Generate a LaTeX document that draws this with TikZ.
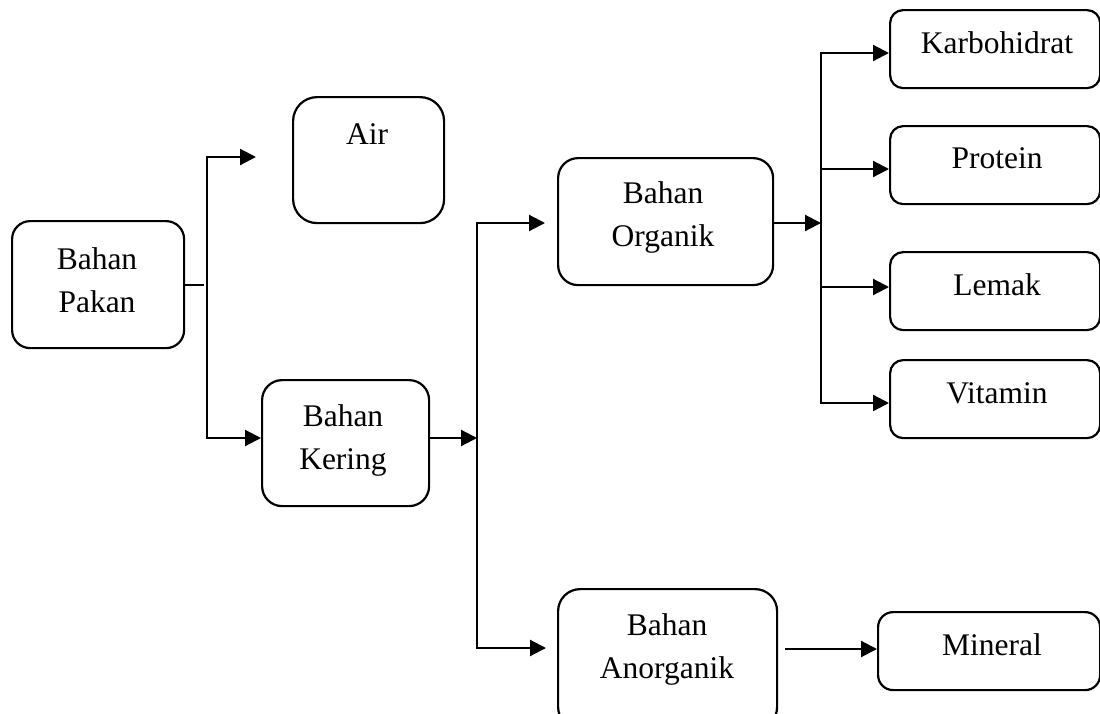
\documentclass[tikz,border=0pt]{standalone}
\usepackage{fontspec}
\setmainfont{Liberation Serif}
\usetikzlibrary{arrows.meta}
\newcommand{\twol}[2]{\vtop{\halign{\hfil##\hfil\cr#1\cr#2\cr}}}
\tikzset{
  box/.style={draw=black, line width=2.2pt, rounded corners=#1, inner sep=0pt, anchor=north west},
  box/.default=18pt,
  txt/.style={inner sep=0pt, anchor=base, font=\fontsize{31.5}{43}\selectfont},
  ln/.style={draw=black, line width=2.2pt},
  arr/.style={draw=black, line width=2.2pt, -{Triangle[length=16pt,width=16pt]}},
}
\begin{document}
\begin{tikzpicture}[x=1pt,y=-1pt]
\useasboundingbox (0,0) rectangle (1100,713);
\clip (0,0) rectangle (1100,713);
% boxes
\node[box=18pt, minimum width=172pt, minimum height=127pt] (pakan) at (11,220) {};
\node[box=24pt, minimum width=151pt, minimum height=126pt] (air) at (292,96) {};
\node[box=20pt, minimum width=167pt, minimum height=126pt] (kering) at (261,379) {};
\node[box=20pt, minimum width=215pt, minimum height=127pt] (org) at (557,157) {};
\node[box=22pt, minimum width=219pt, minimum height=140pt] (anorg) at (557,588) {};
\node[box=13pt, minimum width=210pt, minimum height=78pt] (karbo) at (889,9) {};
\node[box=13pt, minimum width=210pt, minimum height=78pt] (prot) at (889,125) {};
\node[box=13pt, minimum width=210pt, minimum height=78pt] (lemak) at (889,251) {};
\node[box=13pt, minimum width=210pt, minimum height=78pt] (vit) at (889,359) {};
\node[box=15pt, minimum width=222pt, minimum height=78pt] (mineral) at (877,611) {};
% texts
\node[txt] (pakanT) at (97,269) {\twol{Bahan}{Pakan}};
\node[txt] (airT) at (367,144) {Air};
\node[txt] (keringT) at (343,426) {\twol{Bahan}{Kering}};
\node[txt] (orgT) at (663,203) {\twol{Bahan}{Organik}};
\node[txt] (anorgT) at (667,635) {\twol{Bahan}{Anorganik}};
\node[txt] (karboT) at (997,53) {Karbohidrat};
\node[txt] (protT) at (997,168) {Protein};
\node[txt] (lemakT) at (997,295) {Lemak};
\node[txt] (vitT) at (997,403) {Vitamin};
\node[txt] (mineralT) at (992,655) {Mineral};
% junction coordinates
\coordinate (j1) at (207,157);
\coordinate (j2) at (207,438);
\coordinate (airin) at (256,157);
\coordinate (m1) at (477,223);
\coordinate (m2) at (477,648);
\coordinate (orgin) at (545,223);
\coordinate (anorgin) at (546,648);
\coordinate (k0) at (821,223);
\coordinate (k1) at (821,53);
\coordinate (k4) at (821,403);
\coordinate (minout) at (785,649);
% connectors
\draw[ln] (pakan.east) -- ([xshift=-3pt]pakan.east -| j1);
\draw[ln, line cap=rect] (j1) -- (j2);
\draw[arr] (j1) -- (airin);
\draw[arr] (j2) -- (j2 -| kering.west);
\draw[arr] (kering.east |- j2) -- (j2 -| m1);
\draw[ln, line cap=rect] (m1) -- (m2);
\draw[arr] (m1) -- (orgin);
\draw[arr] (m2) -- (anorgin);
\draw[arr] (org.east |- k0) -- (k0);
\draw[ln, line cap=rect] (k1) -- (k4);
\draw[arr] (k1) -- (k1 -| karbo.west);
\draw[arr] (821,169) -- (prot.west |- 0,169);
\draw[arr] (821,287) -- (lemak.west |- 0,287);
\draw[arr] (k4) -- (k4 -| vit.west);
\draw[arr] (minout) -- (minout -| mineral.west);
\end{tikzpicture}
\end{document}
